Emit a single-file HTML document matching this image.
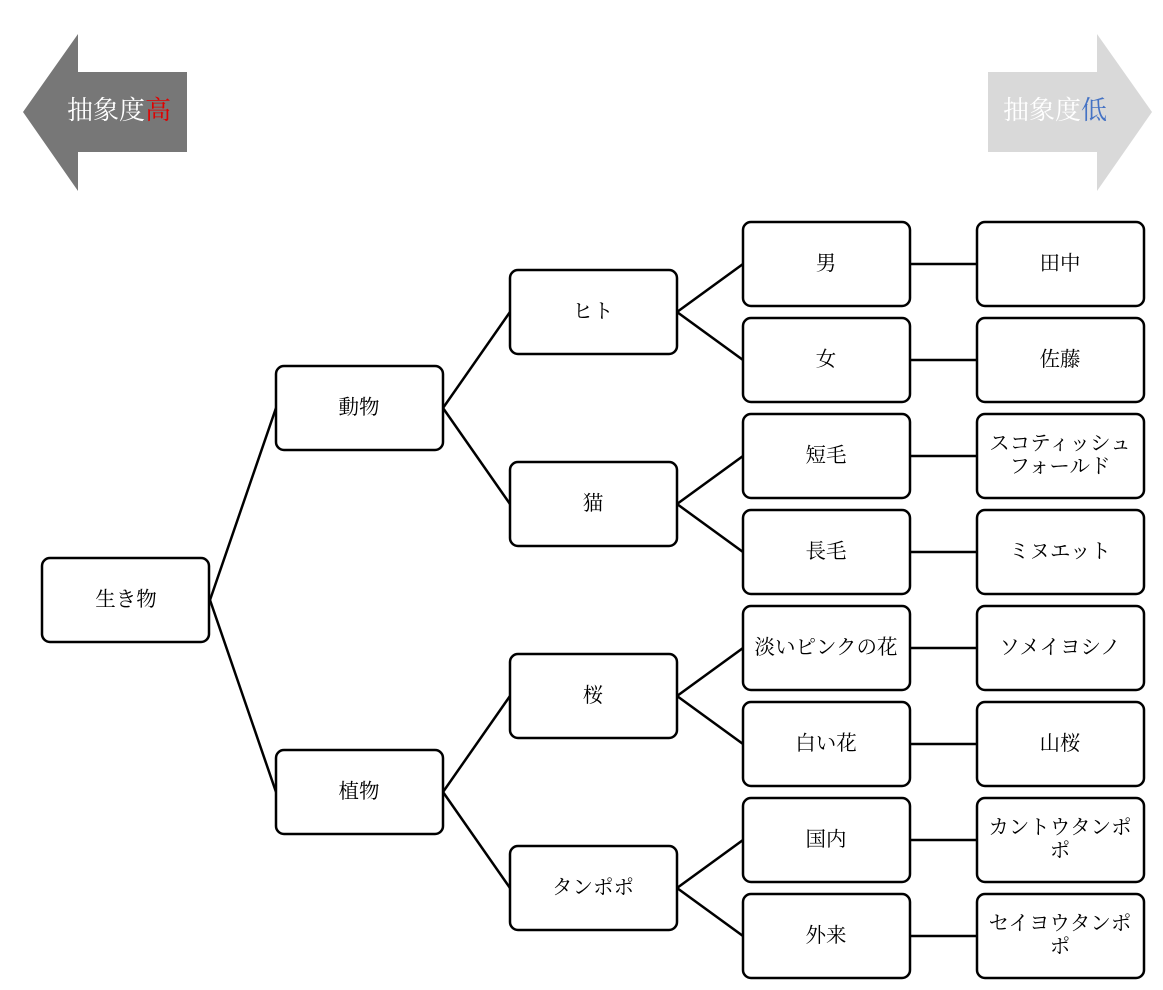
<!DOCTYPE html>
<html><head><meta charset="utf-8"><style>
html,body{margin:0;padding:0;background:#fff;}
svg text{font-family:"Liberation Serif","Noto Serif CJK SC",serif;}
</style></head><body>
<svg width="1163" height="985" viewBox="0 0 1163 985" xmlns="http://www.w3.org/2000/svg">
<polygon points="23,112 78,34 78,72 187,72 187,152 78,152 78,191" fill="#777"/>
<text x="119" y="119" font-size="26" fill="#fff" text-anchor="middle">抽象度<tspan fill="#e00000">高</tspan></text>
<polygon points="1152,112 1097,34 1097,72 988,72 988,152 1097,152 1097,191" fill="#d9d9d9"/>
<text x="1055" y="119" font-size="26" fill="#fff" text-anchor="middle">抽象度<tspan fill="#4472c4">低</tspan></text>
<g stroke="#000" stroke-width="2.5" fill="none">
<line x1="210" y1="600" x2="276" y2="408"/><line x1="210" y1="600" x2="276" y2="792"/>
<line x1="443" y1="408" x2="510" y2="312"/><line x1="443" y1="408" x2="510" y2="504"/>
<line x1="443" y1="792" x2="510" y2="696"/><line x1="443" y1="792" x2="510" y2="888"/>
<line x1="677" y1="312" x2="743" y2="264"/><line x1="677" y1="312" x2="743" y2="360"/>
<line x1="677" y1="504" x2="743" y2="456"/><line x1="677" y1="504" x2="743" y2="552"/>
<line x1="677" y1="696" x2="743" y2="648"/><line x1="677" y1="696" x2="743" y2="744"/>
<line x1="677" y1="888" x2="743" y2="840"/><line x1="677" y1="888" x2="743" y2="936"/>
<line x1="910" y1="264" x2="977" y2="264"/><line x1="910" y1="360" x2="977" y2="360"/>
<line x1="910" y1="456" x2="977" y2="456"/><line x1="910" y1="552" x2="977" y2="552"/>
<line x1="910" y1="648" x2="977" y2="648"/><line x1="910" y1="744" x2="977" y2="744"/>
<line x1="910" y1="840" x2="977" y2="840"/><line x1="910" y1="936" x2="977" y2="936"/>
</g>
<g stroke="#000" stroke-width="2.5" fill="#fff">
<rect x="42" y="558" width="167" height="84" rx="8"/>
<rect x="276" y="366" width="167" height="84" rx="8"/>
<rect x="276" y="750" width="167" height="84" rx="8"/>
<rect x="510" y="270" width="167" height="84" rx="8"/>
<rect x="510" y="462" width="167" height="84" rx="8"/>
<rect x="510" y="654" width="167" height="84" rx="8"/>
<rect x="510" y="846" width="167" height="84" rx="8"/>
<rect x="743" y="222" width="167" height="84" rx="8"/>
<rect x="743" y="318" width="167" height="84" rx="8"/>
<rect x="743" y="414" width="167" height="84" rx="8"/>
<rect x="743" y="510" width="167" height="84" rx="8"/>
<rect x="743" y="606" width="167" height="84" rx="8"/>
<rect x="743" y="702" width="167" height="84" rx="8"/>
<rect x="743" y="798" width="167" height="84" rx="8"/>
<rect x="743" y="894" width="167" height="84" rx="8"/>
<rect x="977" y="222" width="167" height="84" rx="8"/>
<rect x="977" y="318" width="167" height="84" rx="8"/>
<rect x="977" y="414" width="167" height="84" rx="8"/>
<rect x="977" y="510" width="167" height="84" rx="8"/>
<rect x="977" y="606" width="167" height="84" rx="8"/>
<rect x="977" y="702" width="167" height="84" rx="8"/>
<rect x="977" y="798" width="167" height="84" rx="8"/>
<rect x="977" y="894" width="167" height="84" rx="8"/>
</g>
<g font-size="20.5" text-anchor="middle" fill="#000">
<text x="126" y="606">生き物</text>
<text x="359" y="414">動物</text>
<text x="359" y="798">植物</text>
<text x="593" y="318">ヒト</text>
<text x="593" y="510">猫</text>
<text x="593" y="702">桜</text>
<text x="593" y="894">タンポポ</text>
<text x="826" y="270">男</text>
<text x="826" y="366">女</text>
<text x="826" y="462">短毛</text>
<text x="826" y="558">長毛</text>
<text x="826" y="654">淡いピンクの花</text>
<text x="826" y="750">白い花</text>
<text x="826" y="846">国内</text>
<text x="826" y="942">外来</text>
<text x="1060" y="270">田中</text>
<text x="1060" y="366">佐藤</text>
<text x="1060" y="450">スコティッシュ</text>
<text x="1060" y="473">フォールド</text>
<text x="1060" y="558">ミヌエット</text>
<text x="1060" y="654">ソメイヨシノ</text>
<text x="1060" y="750">山桜</text>
<text x="1060" y="834">カントウタンポ</text>
<text x="1060" y="857">ポ</text>
<text x="1060" y="930">セイヨウタンポ</text>
<text x="1060" y="953">ポ</text>
</g>
</svg>
</body></html>
